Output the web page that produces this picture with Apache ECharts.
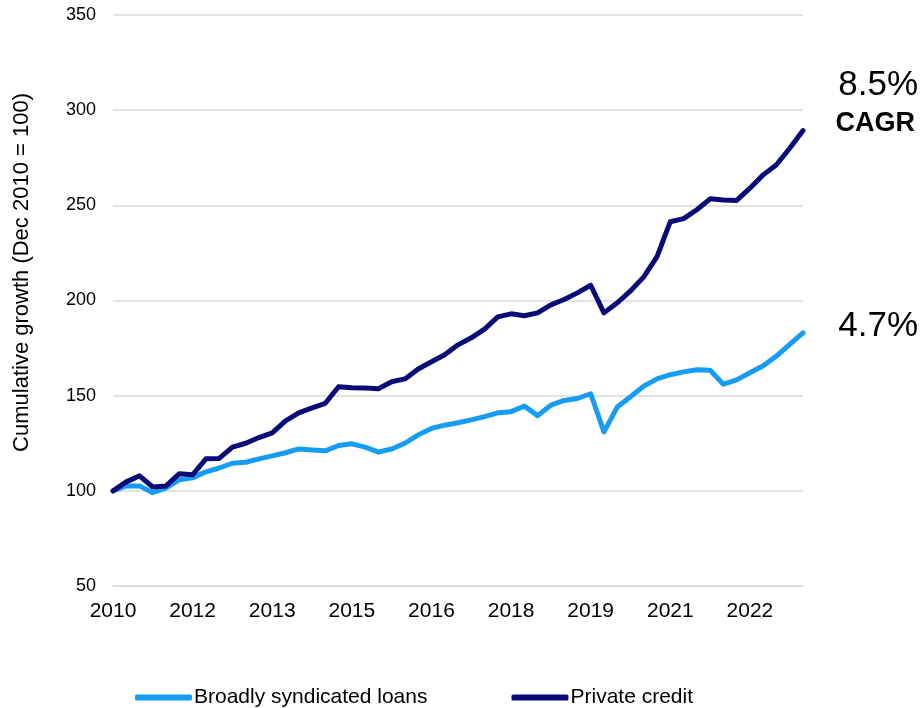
<!DOCTYPE html>
<html>
<head>
<meta charset="utf-8">
<script src="https://cdn.jsdelivr.net/npm/echarts@6/dist/echarts.min.js"></script>
<style>
html,body{margin:0;padding:0;background:#fff;}
#chart{width:924px;height:708px;}
</style>
</head>
<body>
<div id="chart"></div>
<script>
var quarters = [
  "Q4 2010",
  "Q1 2011","Q2 2011","Q3 2011","Q4 2011",
  "Q1 2012","Q2 2012","Q3 2012","Q4 2012",
  "Q1 2013","Q2 2013","Q3 2013","Q4 2013",
  "Q1 2014","Q2 2014","Q3 2014","Q4 2014",
  "Q1 2015","Q2 2015","Q3 2015","Q4 2015",
  "Q1 2016","Q2 2016","Q3 2016","Q4 2016",
  "Q1 2017","Q2 2017","Q3 2017","Q4 2017",
  "Q1 2018","Q2 2018","Q3 2018","Q4 2018",
  "Q1 2019","Q2 2019","Q3 2019","Q4 2019",
  "Q1 2020","Q2 2020","Q3 2020","Q4 2020",
  "Q1 2021","Q2 2021","Q3 2021","Q4 2021",
  "Q1 2022","Q2 2022","Q3 2022","Q4 2022",
  "Q1 2023","Q2 2023","Q3 2023","Q4 2023"
];

var broadlySyndicatedLoans = [
  100,
  102.6, 102.6, 99, 101.6,
  105.8, 106.8, 110, 112,
  114.5, 115, 116.8, 118.4,
  120, 122, 121.5, 121,
  123.8, 124.7, 123, 120.3,
  122, 125, 129.4, 132.8,
  134.5, 135.8, 137.3, 139,
  141, 141.6, 144.5, 139.5,
  145, 147.5, 148.5, 151,
  131, 144, 149.4, 155,
  158.8, 161, 162.5, 163.6,
  163.4, 156, 158.3, 162,
  165.7, 170.8, 177, 183
];

var privateCredit = [
  100,
  104.7, 107.9, 102, 102.6,
  109, 108.4, 116.8, 117,
  123, 125, 128, 130.5,
  136.8, 141, 143.6, 146,
  154.7, 154.2, 154, 153.6,
  157.3, 158.8, 164, 167.8,
  171.5, 176.7, 180.4, 185,
  191.4, 193, 192, 193.5,
  197.7, 200.5, 204, 208,
  193.5, 198.8, 205, 212.4,
  223, 241.4, 243, 247.7,
  253.4, 252.8, 252.6, 259,
  266, 271.3, 280, 289.3
];

var seriesNames = ["Broadly syndicated loans", "Private credit"];
var yTitle = "Cumulative growth (Dec 2010 = 100)";
var cagrPrivate = "8.5%";
var cagrLoans = "4.7%";
var cagrWord = "CAGR";

var FONT = "Liberation Sans, Arial, sans-serif";
var chart = echarts.init(document.getElementById("chart"));
chart.setOption({
  animation: false,
  backgroundColor: "#ffffff",
  grid: { left: 113, right: 121, top: 15, bottom: 122, containLabel: false },
  legend: {
    left: 130, top: 682,
    itemWidth: 57, itemHeight: 6,
    itemGap: 84,
    icon: "roundRect",
    textStyle: { fontFamily: FONT, fontSize: 21, color: "#000", padding: [0, 0, 0, -3] },
    data: seriesNames
  },
  xAxis: {
    type: "category",
    data: quarters,
    boundaryGap: false,
    axisLine: { show: true, lineStyle: { color: "#d9d9d9", width: 1.5 } },
    axisTick: { show: false },
    axisLabel: {
      interval: 5,
      margin: 15,
      fontFamily: FONT, fontSize: 21, color: "#000",
      formatter: function (v) { return v.slice(-4); }
    },
    splitLine: { show: false }
  },
  yAxis: {
    type: "value",
    min: 50, max: 350, interval: 50,
    axisLine: { show: false },
    axisTick: { show: false },
    axisLabel: { margin: 17, fontFamily: FONT, fontSize: 18, color: "#000" },
    splitLine: { lineStyle: { color: "#d9d9d9", width: 1.5 } }
  },
  graphic: [
    { type: "text", left: 11, top: 93, rotation: Math.PI / 2,
      style: { text: yTitle, fontFamily: FONT, fontSize: 22, fill: "#000" } },
    { type: "text", right: 6, top: 68,
      style: { text: cagrPrivate, fontFamily: FONT, fontSize: 35, fill: "#000" } },
    { type: "text", right: 9, top: 110,
      style: { text: cagrWord, fontFamily: FONT, fontSize: 27, fontWeight: "bold", fill: "#000" } },
    { type: "text", right: 6, top: 309,
      style: { text: cagrLoans, fontFamily: FONT, fontSize: 35, fill: "#000" } }
  ],
  series: [
    {
      name: seriesNames[0], type: "line", data: broadlySyndicatedLoans,
      symbol: "none", smooth: false,
      itemStyle: { color: "#169cf2" },
      lineStyle: { color: "#169cf2", width: 5, cap: "round", join: "round" }
    },
    {
      name: seriesNames[1], type: "line", data: privateCredit,
      symbol: "none", smooth: false,
      itemStyle: { color: "#0b0b78" },
      lineStyle: { color: "#0b0b78", width: 5, cap: "round", join: "round" }
    }
  ]
});
</script>
</body>
</html>
